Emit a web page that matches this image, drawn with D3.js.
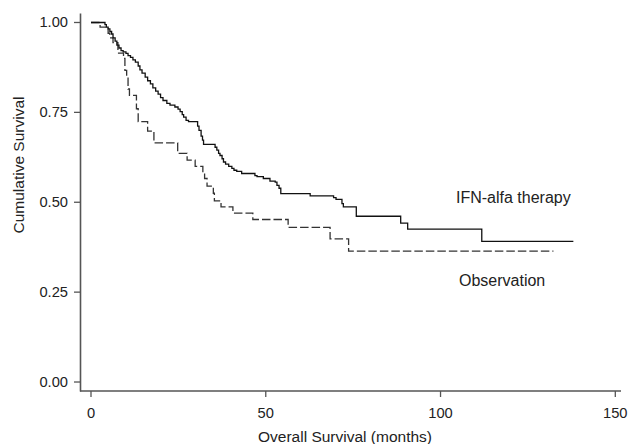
<!DOCTYPE html>
<html>
<head>
<meta charset="utf-8">
<script src="https://cdn.jsdelivr.net/npm/d3@7"></script>
<style>
  body { margin: 0; background: #fff; }
  text { font-family: Arial, "Liberation Sans", sans-serif; fill: #222; }
</style>
</head>
<body>
<div id="canvas"></div>
<script>
// Kaplan-Meier steps (months, cumulative survival)
var ifnTimes = [0, 4.0, 4.4, 4.9, 5.4, 5.9, 6.3, 6.9, 7.4, 8.0, 8.6, 9.2, 10.0, 10.6, 11.3, 12.0, 12.7, 13.5, 14.0,
  14.6, 15.5, 16.2, 17.0, 17.7, 18.5, 19.2, 19.9, 20.6, 21.7, 22.6, 24.0, 24.9, 25.5, 26.1, 26.5, 27.2, 27.9,
  30.5, 30.9, 31.5, 31.9, 32.2, 35.5, 36.0, 36.5, 36.9, 37.5, 37.9, 38.5, 39.4, 40.3, 40.9, 41.7, 43.1,
  46.9, 47.5, 49.3, 51.2, 52.7, 53.2, 53.8, 54.3, 62.7, 69.4, 70.1, 71.8, 72.2, 75.9, 88.6, 90.6, 111.8];
var ifnSurvival = [1, 0.994, 0.987, 0.982, 0.975, 0.968, 0.957, 0.948, 0.937, 0.929, 0.922, 0.918, 0.914, 0.908, 0.903, 0.896, 0.890, 0.879, 0.868,
  0.859, 0.848, 0.838, 0.829, 0.818, 0.809, 0.801, 0.791, 0.783, 0.775, 0.770, 0.765, 0.759, 0.752, 0.744, 0.737, 0.728, 0.724,
  0.712, 0.700, 0.684, 0.673, 0.661, 0.653, 0.645, 0.636, 0.630, 0.621, 0.612, 0.606, 0.600, 0.594, 0.589, 0.586, 0.580,
  0.574, 0.571, 0.566, 0.559, 0.556, 0.547, 0.539, 0.524, 0.518, 0.513, 0.508, 0.496, 0.487, 0.461, 0.442, 0.425, 0.391];
var ifnEnd = 138.0;

var obsTimes = [0, 2.6, 4.9, 5.4, 6.3, 7.7, 9.3, 9.7, 10.2, 10.6, 11.0, 13.0, 13.5, 16.2, 18.0, 24.8, 27.5, 29.8,
  32.0, 32.5, 33.2, 35.0, 35.3, 37.2, 40.6, 46.3, 56.4, 68.4, 73.7];
var obsSurvival = [1, 0.987, 0.970, 0.957, 0.944, 0.915, 0.900, 0.867, 0.850, 0.815, 0.797, 0.760, 0.724, 0.698, 0.665, 0.636, 0.617, 0.600,
  0.583, 0.566, 0.545, 0.525, 0.504, 0.487, 0.470, 0.452, 0.430, 0.398, 0.364];
var obsEnd = 132.3;

var xTicks = [0, 50, 100, 150];
var yTicks = [0, 0.25, 0.5, 0.75, 1];

var width = 629, height = 444;
var svg = d3.select('#canvas').append("svg").attr("width", width).attr("height", height);

var x = d3.scaleLinear().domain([0, 150]).range([91, 615.3]);
var y = d3.scaleLinear().domain([-0.025, 1.025]).range([391, 13.5]);

// axes
var axisColor = "#555";
svg.append("line")
  .attr("x1", 80.5).attr("x2", 80.5)
  .attr("y1", y(1.025)).attr("y2", 391.5)
  .attr("stroke", axisColor).attr("stroke-width", 1.6);
svg.append("line")
  .attr("x1", 80).attr("x2", 621)
  .attr("y1", 391).attr("y2", 391)
  .attr("stroke", axisColor).attr("stroke-width", 1.6);

var yAxis = svg.append("g").attr("class", "y-axis");
yAxis.selectAll("line")
  .data(yTicks)
  .enter()
  .append("line")
  .attr("x1", 74).attr("x2", 80.5)
  .attr("y1", d => y(d)).attr("y2", d => y(d))
  .attr("stroke", axisColor).attr("stroke-width", 1.3);
yAxis.selectAll("text")
  .data(yTicks)
  .enter()
  .append("text")
  .attr("x", 68)
  .attr("y", d => y(d) + 5)
  .style("text-anchor", "end")
  .style("font-size", "14.7px")
  .text(d => d3.format(".2f")(d));

var xAxis = svg.append("g").attr("class", "x-axis");
xAxis.selectAll("line")
  .data(xTicks)
  .enter()
  .append("line")
  .attr("x1", d => x(d)).attr("x2", d => x(d))
  .attr("y1", 391).attr("y2", 397)
  .attr("stroke", axisColor).attr("stroke-width", 1.3);
xAxis.selectAll("text")
  .data(xTicks)
  .enter()
  .append("text")
  .attr("x", d => x(d))
  .attr("y", 417.5)
  .style("text-anchor", "middle")
  .style("font-size", "14.7px")
  .text(d => d);

svg.append("text")
  .attr("x", 345)
  .attr("y", 442)
  .style("text-anchor", "middle")
  .style("font-size", "15.5px")
  .text("Overall Survival (months)");
svg.append("text")
  .attr("transform", "translate(24,165) rotate(-90)")
  .style("text-anchor", "middle")
  .style("font-size", "15.5px")
  .text("Cumulative Survival");

// survival curves
var stepLine = d3.line()
  .x(d => x(d[0]))
  .y(d => y(d[1]))
  .curve(d3.curveStepAfter);

function curvePoints(times, survival, end) {
  var pts = times.map((t, i) => [t, survival[i]]);
  pts.push([end, survival[survival.length - 1]]);
  return pts;
}

svg.append("path")
  .attr("d", stepLine(curvePoints(obsTimes, obsSurvival, obsEnd)))
  .attr("fill", "none")
  .attr("stroke", "#333")
  .attr("stroke-width", 1.3)
  .attr("stroke-dasharray", "8.5,3");

svg.append("path")
  .attr("d", stepLine(curvePoints(ifnTimes, ifnSurvival, ifnEnd)))
  .attr("fill", "none")
  .attr("stroke", "#111")
  .attr("stroke-width", 1.3);

svg.append("text")
  .attr("x", 456)
  .attr("y", 203)
  .style("font-size", "16px")
  .text("IFN-alfa therapy");
svg.append("text")
  .attr("x", 459)
  .attr("y", 286)
  .style("font-size", "16px")
  .text("Observation");
</script>
</body>
</html>
